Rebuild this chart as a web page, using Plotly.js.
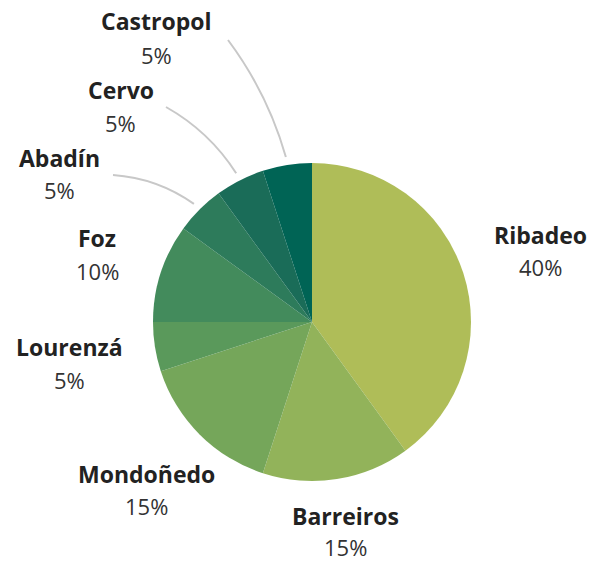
<!DOCTYPE html>
<html>
<head>
<meta charset="utf-8">
<script src="https://cdn.plot.ly/plotly-3.0.1.min.js"></script>
<style>html,body{margin:0;padding:0;background:#fff;}#chart{width:601px;height:563px;}</style>
</head>
<body>
<div id="chart"></div>
<script>
// ---- data ----
const categories = ["Ribadeo", "Barreiros", "Mondoñedo", "Lourenzá", "Foz", "Abadín", "Cervo", "Castropol"];
const values = [40, 15, 15, 5, 10, 5, 5, 5];
const percentLabels = ["40%", "15%", "15%", "5%", "10%", "5%", "5%", "5%"];
const sliceColors = ["#afbd58", "#92b35a", "#75a65a", "#5a995b", "#438b5c", "#2d7b5b", "#1a6c58", "#006455"];

// ---- layout settings (pixel space) ----
const W = 601, H = 563;
const cx = 312, cy = 322, R = 159;
// label centres [x, yName, yPct]
const labelPos = [
  [540, 235, 267],
  [345, 516, 547],
  [146, 474, 506],
  [69, 347, 380],
  [97, 238, 271],
  [59, 158, 190],
  [121, 90, 123],
  [156, 21, 55]
];
// leader line start points near the label (null = no leader)
const leaderStart = [null, null, null, null, null, [113, 175], [166, 107], [228, 40]];
const leaderR = 167;

const px = x => x / W;
const py = y => 1 - y / H;

const trace = {
  type: "pie",
  labels: categories,
  values: values,
  sort: false,
  direction: "clockwise",
  rotation: 0,
  textinfo: "none",
  hoverinfo: "label+percent",
  marker: {colors: sliceColors, line: {width: 0}},
  domain: {x: [px(cx - R), px(cx + R)], y: [py(cy + R), py(cy - R)]},
  showlegend: false
};

const annotations = [];
const shapes = [];
const total = values.reduce((a, b) => a + b, 0);
let cum = 0;
categories.forEach((c, i) => {
  const mid = (cum + values[i] / 2) / total;
  cum += values[i];
  const p = labelPos[i];
  annotations.push({
    xref: "paper", yref: "paper", x: px(p[0]), y: py(p[1]),
    xanchor: "center", yanchor: "middle", showarrow: false,
    text: "<b>" + c + "</b>",
    font: {family: "Open Sans, sans-serif", size: 23, color: "#222222"}
  });
  annotations.push({
    xref: "paper", yref: "paper", x: px(p[0]), y: py(p[2]),
    xanchor: "center", yanchor: "middle", showarrow: false,
    text: percentLabels[i],
    font: {family: "Open Sans, sans-serif", size: 22, color: "#333333"}
  });
  if (leaderStart[i]) {
    const ang = mid * 2 * Math.PI;
    const ex = cx + leaderR * Math.sin(ang);
    const ey = cy - leaderR * Math.cos(ang);
    const [sx, sy] = leaderStart[i];
    const dx = ex - sx, dy = ey - sy, len = Math.hypot(dx, dy);
    const k = 12;
    const qx = (sx + ex) / 2 + k * dy / len;
    const qy = (sy + ey) / 2 - k * dx / len;
    shapes.push({
      type: "path", xref: "paper", yref: "paper",
      path: `M ${px(sx)},${py(sy)} Q ${px(qx)},${py(qy)} ${px(ex)},${py(ey)}`,
      line: {color: "#c8c8c8", width: 2}
    });
  }
});

const layout = {
  width: W, height: H,
  margin: {l: 0, r: 0, t: 0, b: 0},
  paper_bgcolor: "#ffffff",
  plot_bgcolor: "#ffffff",
  annotations: annotations,
  shapes: shapes
};

Plotly.newPlot("chart", [trace], layout, {displayModeBar: false, responsive: false});
</script>
</body>
</html>
